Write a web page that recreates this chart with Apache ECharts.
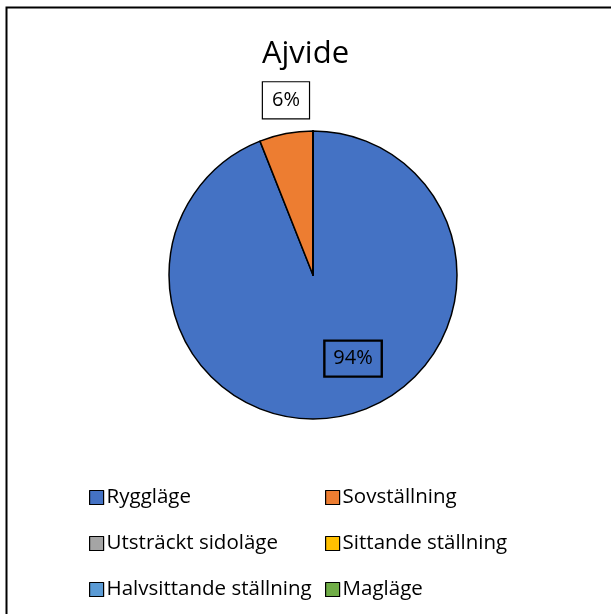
<!DOCTYPE html>
<html>
<head>
<meta charset="utf-8">
<script src="https://cdn.jsdelivr.net/npm/echarts@6/dist/echarts.min.js"></script>
<style>
  html, body { margin: 0; padding: 0; background: #fff; }
  #chart { width: 611px; height: 614px; }
</style>
</head>
<body>
<div id="chart"></div>
<script>
// data
var categories = ['Ryggläge', 'Sovställning', 'Utsträckt sidoläge', 'Sittande ställning', 'Halvsittande ställning', 'Magläge'];
var values = [94, 6, 0, 0, 0, 0];
var colors = ['#4472C4', '#ED7D31', '#A5A5A5', '#FFC000', '#5B9BD5', '#70AD47'];

// label nudges (Excel best fit), by slice index
var labelShift = { 0: [26, 10], 1: [-13, -101] };
var labelBg = { 0: 'transparent', 1: '#ffffff' };

var font = '"Open Sans", "Noto Sans", sans-serif';

var pieData = categories.map(function (name, i) {
  return {
    name: name,
    value: values[i],
    itemStyle: { color: colors[i] },
    label: { show: values[i] > 0, backgroundColor: labelBg[i] || 'transparent' }
  };
});

var legendStyle = {
  orient: 'vertical',
  itemWidth: 14,
  itemHeight: 14,
  itemGap: 25,
  icon: 'rect',
  textStyle: { fontFamily: font, fontSize: 20.5, color: '#000', lineHeight: 20, padding: [0, 0, 0, -2] },
  itemStyle: { borderColor: '#000', borderWidth: 1.2 }
};

var mychart = echarts.init(document.getElementById('chart'));
mychart.setOption({
  animation: false,
  title: {
    text: 'Ajvide',
    left: 'center',
    top: 34,
    textStyle: { fontFamily: font, fontSize: 31, fontWeight: 'normal', color: '#000' }
  },
  legend: [
    Object.assign({ left: 84, top: 482, data: [categories[0], categories[2], categories[4]] }, legendStyle),
    Object.assign({ left: 320, top: 482, data: [categories[1], categories[3], categories[5]] }, legendStyle)
  ],
  graphic: [{
    type: 'rect',
    shape: { x: 6.5, y: 7.5, width: 700, height: 700 },
    style: { fill: 'none', stroke: '#000', lineWidth: 2 },
    silent: true
  }],
  series: [{
    type: 'pie',
    center: [313, 275],
    radius: 144,
    startAngle: 90,
    clockwise: true,
    avoidLabelOverlap: false,
    itemStyle: { borderColor: '#000', borderWidth: 1.5 },
    label: {
      position: 'inside',
      formatter: function (p) { return Math.round(p.percent) + '%'; },
      fontFamily: font,
      fontSize: 20,
      color: '#000',
      borderColor: '#000',
      borderWidth: 1.2,
      padding: [9, 9, 7, 9]
    },
    labelLayout: function (p) {
      var s = labelShift[p.dataIndex] || [0, 0];
      return { dx: s[0], dy: s[1] };
    },
    labelLine: { show: false },
    emphasis: { disabled: true },
    data: pieData
  }]
});
</script>
</body>
</html>
